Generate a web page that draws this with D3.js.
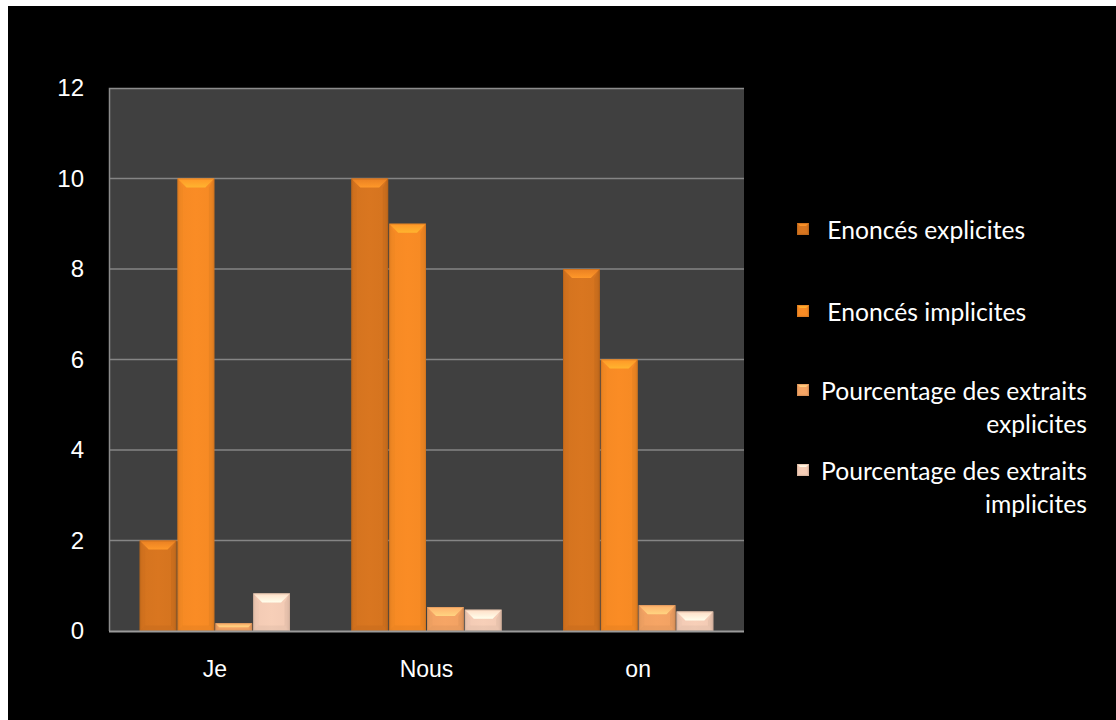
<!DOCTYPE html>
<html>
<head>
<meta charset="utf-8">
<script src="https://cdn.jsdelivr.net/npm/d3@7"></script>
<style>
  html, body { margin: 0; padding: 0; background: #ffffff; }
  svg { display: block; }
</style>
</head>
<body>
<svg id="chart" width="1116" height="720"></svg>
<script>
// Chart data
const categories = ["Je", "Nous", "on"];
const seriesNames = [
  "Enoncés explicites",
  "Enoncés implicites",
  "Pourcentage des extraits explicites",
  "Pourcentage des extraits implicites"
];
const enoncesExplicites = [2, 10, 8];
const enoncesImplicites = [10, 9, 6];
const pctExplicites = [0.17, 0.53, 0.57];
const pctImplicites = [0.83, 0.47, 0.43];
const yTicks = [0, 2, 4, 6, 8, 10, 12];

const seriesValues = [enoncesExplicites, enoncesImplicites, pctExplicites, pctImplicites];
const seriesColors = ["#d5741f", "#f68a24", "#f2a263", "#f3cbb5"];

const svg = d3.select("#chart");

// Black slide background with a thin white margin on top and left
svg.append("rect").attr("x", 0).attr("y", 0).attr("width", 1116).attr("height", 720).attr("fill", "#ffffff");
svg.append("rect").attr("x", 8).attr("y", 6).attr("width", 1108).attr("height", 714).attr("fill", "#000000");

const plot = { left: 109, top: 88, right: 744, bottom: 631 };

const x0 = d3.scaleBand().domain(categories).range([plot.left, plot.right]).paddingInner(0.285).paddingOuter(0.1425);
const x1 = d3.scaleBand().domain(d3.range(seriesNames.length)).range([0, x0.bandwidth()]).padding(0);
const y = d3.scaleLinear().domain([0, 12]).range([plot.bottom, plot.top]);

// Plot area
svg.append("rect")
  .attr("x", plot.left).attr("y", plot.top)
  .attr("width", plot.right - plot.left).attr("height", plot.bottom - plot.top)
  .attr("fill", "#404040");

// Gridlines
svg.append("g")
  .selectAll("line")
  .data(yTicks.filter(t => t > 0 && t < 12))
  .join("line")
  .attr("x1", plot.left).attr("x2", plot.right)
  .attr("y1", d => y(d)).attr("y2", d => y(d))
  .attr("stroke", "#858585").attr("stroke-width", 1.5);

// Top and left frame edges
svg.append("path")
  .attr("d", `M${plot.left + 0.5},${plot.bottom} V${plot.top + 0.5} H${plot.right}`)
  .attr("fill", "none").attr("stroke", "#8c8c8c").attr("stroke-width", 1.5);

// Gradient definitions for bars (horizontal shading) and top bevel highlight
const defs = svg.append("defs");
seriesColors.forEach((c, i) => {
  const base = d3.color(c);
  const g = defs.append("linearGradient").attr("id", "bar" + i).attr("x1", 0).attr("x2", 1).attr("y1", 0).attr("y2", 0);
  g.append("stop").attr("offset", "0%").attr("stop-color", base.darker(0.2));
  g.append("stop").attr("offset", "10%").attr("stop-color", base);
  g.append("stop").attr("offset", "50%").attr("stop-color", base.brighter(0.05));
  g.append("stop").attr("offset", "90%").attr("stop-color", base);
  g.append("stop").attr("offset", "100%").attr("stop-color", base.darker(0.3));
  const t = defs.append("linearGradient").attr("id", "top" + i).attr("x1", 0).attr("x2", 0).attr("y1", 0).attr("y2", 1);
  t.append("stop").attr("offset", "0%").attr("stop-color", base.brighter(0.25));
  t.append("stop").attr("offset", "100%").attr("stop-color", base.brighter(0.75));
});

function bevelBar(g, bx, by, bw, bh, i, maxBevel) {
  const base = d3.color(seriesColors[i]);
  const b = Math.max(1, Math.min(maxBevel, bh / 2, bw / 4));
  g.append("rect").attr("x", bx).attr("y", by).attr("width", bw).attr("height", bh).attr("fill", `url(#bar${i})`);
  // top bevel
  g.append("path")
    .attr("d", `M${bx},${by} L${bx + bw},${by} L${bx + bw - b},${by + b} L${bx + b},${by + b} Z`)
    .attr("fill", `url(#top${i})`);
  // left bevel
  g.append("path")
    .attr("d", `M${bx},${by} L${bx + b * 0.6},${by + b} L${bx + b * 0.6},${by + bh - b * 0.6} L${bx},${by + bh} Z`)
    .attr("fill", base.darker(0.15)).attr("opacity", 0.35);
  // right bevel
  g.append("path")
    .attr("d", `M${bx + bw},${by} L${bx + bw - b * 0.6},${by + b} L${bx + bw - b * 0.6},${by + bh - b * 0.6} L${bx + bw},${by + bh} Z`)
    .attr("fill", base.darker(0.35)).attr("opacity", 0.4);
  // bottom bevel
  g.append("path")
    .attr("d", `M${bx},${by + bh} L${bx + b * 0.6},${by + bh - b * 0.6} L${bx + bw - b * 0.6},${by + bh - b * 0.6} L${bx + bw},${by + bh} Z`)
    .attr("fill", base.darker(0.3)).attr("opacity", 0.35);
  // outline
  g.append("rect").attr("x", bx + 0.5).attr("y", by + 0.5).attr("width", bw - 1).attr("height", Math.max(0, bh - 1))
    .attr("fill", "none").attr("stroke", base.darker(0.6)).attr("stroke-opacity", 0.4);
}

// Bars
const barsG = svg.append("g");
categories.forEach((cat, ci) => {
  seriesValues.forEach((vals, si) => {
    const bx = x0(cat) + x1(si);
    const by = y(vals[ci]);
    const bh = plot.bottom - by;
    bevelBar(barsG.append("g"), bx + 0.5, by, x1.bandwidth() - 1, bh, si, 9);
  });
});

// Baseline
svg.append("line")
  .attr("x1", plot.left).attr("x2", plot.right)
  .attr("y1", plot.bottom + 0.5).attr("y2", plot.bottom + 0.5)
  .attr("stroke", "#9a9a9a").attr("stroke-width", 2);

// Y axis labels
const yAxis = d3.axisLeft(y).tickValues(yTicks).tickSize(0).tickPadding(25);
const ya = svg.append("g").attr("transform", `translate(${plot.left},0)`).call(yAxis);
ya.attr("font-size", null).attr("font-family", null);
ya.select(".domain").remove();
ya.selectAll("text")
  .attr("fill", "#ffffff")
  .style("font-family", "'Liberation Sans', Arial, sans-serif")
  .style("font-size", "24px");

// X axis labels
const xAxis = d3.axisBottom(x0).tickSize(0).tickPadding(30);
const xa = svg.append("g").attr("transform", `translate(0,${plot.bottom})`).call(xAxis);
xa.attr("font-size", null).attr("font-family", null);
xa.select(".domain").remove();
xa.selectAll("text")
  .attr("fill", "#ffffff")
  .style("font-family", "'Liberation Sans', Arial, sans-serif")
  .style("font-size", "23px");

// Legend
const legendFont = "Lato, 'Open Sans', sans-serif";
const legendItems = [
  { lines: [" Enoncés explicites"], yc: 229 },
  { lines: [" Enoncés implicites"], yc: 311 },
  { lines: ["Pourcentage des extraits", "explicites"], yc: 390 },
  { lines: ["Pourcentage des extraits", "implicites"], yc: 470 }
];
const legendG = svg.append("g");
legendItems.forEach((item, i) => {
  const g = legendG.append("g");
  bevelBar(g, 797, item.yc - 6, 12, 12, i, 4);
  item.lines.forEach((ln, li) => {
    const t = g.append("text")
      .attr("fill", "#ffffff")
      .attr("font-family", legendFont)
      .attr("font-size", 21)
      .attr("dominant-baseline", "central")
      .attr("y", item.yc + li * 33)
      .attr("xml:space", "preserve")
      .text(ln);
    if (li === 0) {
      t.attr("x", 821);
    } else {
      t.attr("x", 1087).attr("text-anchor", "end");
    }
  });
});
// Scale legend type so the longest line spans the same width as the layout box
const sample = legendG.selectAll("text").filter(function () { return this.textContent === "Pourcentage des extraits"; }).node();
if (sample) {
  const w = sample.getComputedTextLength();
  const fs = 21 * 266 / w;
  legendG.selectAll("text").attr("font-size", fs);
}
</script>
</body>
</html>
